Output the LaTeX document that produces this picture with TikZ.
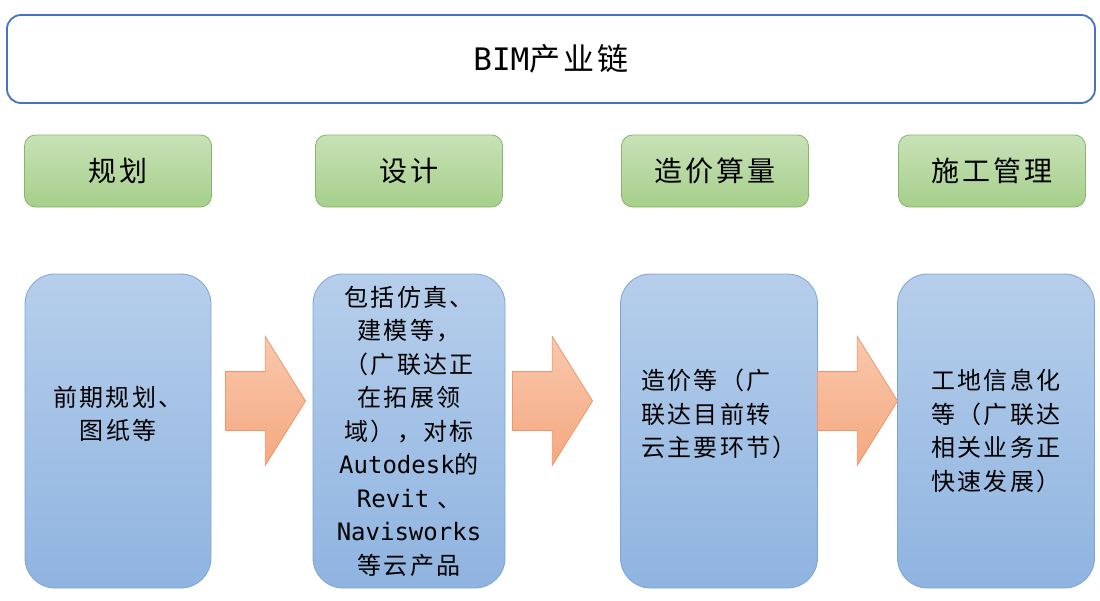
\documentclass[tikz,border=0pt]{standalone}
\usepackage{fontspec}
\setmainfont{Noto Sans CJK SC}[LetterSpace=10]
\setmonofont{DejaVu Sans Mono}
\usepackage{tikz}
\usetikzlibrary{shapes.arrows}

\definecolor{chainline}{RGB}{68,114,196}
\definecolor{stageline}{RGB}{134,182,104}
\definecolor{stagetop}{RGB}{200,226,183}
\definecolor{stagebottom}{RGB}{166,207,139}
\definecolor{infoline}{RGB}{126,163,213}
\definecolor{infotop}{RGB}{182,206,235}
\definecolor{infobottom}{RGB}{143,180,224}
\definecolor{flowline}{RGB}{240,150,108}
\definecolor{flowtop}{RGB}{249,200,172}
\definecolor{flowbottom}{RGB}{244,168,128}

\begin{document}
\begin{tikzpicture}[x=1pt, y=-1pt,
    every node/.style={text=black},
    chain/.style={draw=chainline, line width=1.8pt, rounded corners=14pt, fill=white,
      minimum width=1088pt, minimum height=88pt, font=\fontsize{31}{36}\selectfont},
    stage/.style={draw=stageline, line width=0.8pt, rounded corners=11pt,
      top color=stagetop, bottom color=stagebottom,
      minimum width=187pt, minimum height=72pt, font=\fontsize{28}{32}\selectfont},
    info/.style={draw=infoline, line width=0.8pt, rounded corners=30pt,
      top color=infotop, bottom color=infobottom, minimum height=314pt,
      inner sep=2pt, font=\fontsize{24}{33.5}\selectfont},
    flow/.style={single arrow, draw=flowline, line width=0.8pt, anchor=tip,
      top color=flowtop, bottom color=flowbottom, inner xsep=0pt, inner ysep=29pt,
      minimum height=80pt, single arrow head extend=35pt, single arrow tip angle=116}]
  \useasboundingbox (0,0) rectangle (1100,600);

  \node [chain] (bim) at (551,59) {\texttt{BIM}产业链};

  \node [stage] (plan)   at (118,171) {规划};
  \node [stage] (design) at (409,171) {设计};
  \node [stage] (cost)   at (715,171) {造价算量};
  \node [stage] (build)  at (992,171) {施工管理};

  \node [info, minimum width=186pt, align=center, text depth=36pt] (planinfo) at (118,431)
    {前期规划、\\图纸等};
  \node [info, minimum width=192pt, align=center] (designinfo) at (409,431)
    {包括仿真、\\建模等，\\（广联达正\\在拓展领\\域），对标\\\texttt{Autodesk}的\\\texttt{Revit} 、\\\texttt{Navisworks}\\等云产品};
  \node [info, minimum width=197pt, align=left, text depth=36pt] (costinfo) at (719,431)
    {造价等（广\\联达目前转\\云主要环节）};
  \node [info, minimum width=197pt, align=left] (buildinfo) at (996,431)
    {工地信息化\\等（广联达\\相关业务正\\快速发展）};

  \node [flow] (plan2design) at (306,401) {};
  \node [flow] (design2cost) at (593,401) {};
  \node [flow] (cost2build)  at (898,401) {};
\end{tikzpicture}
\end{document}
